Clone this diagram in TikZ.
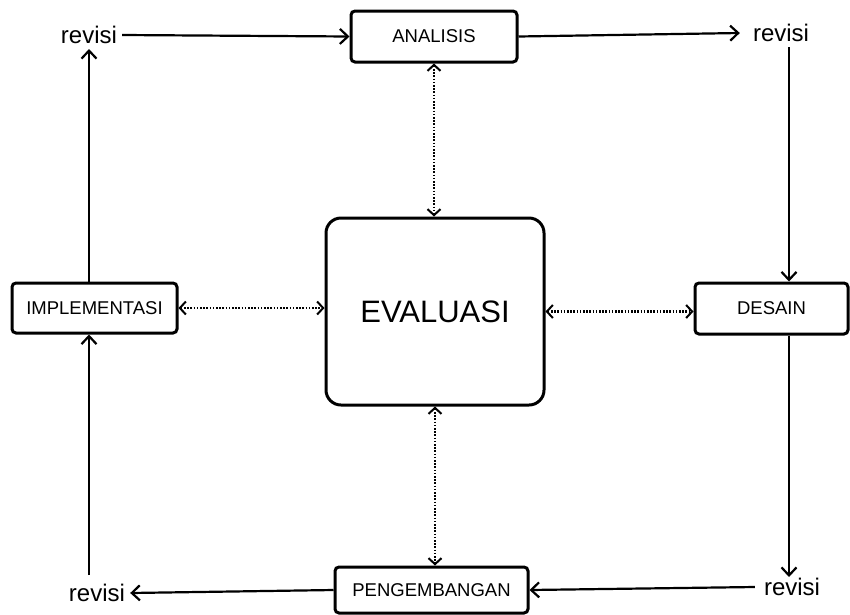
\documentclass[tikz,border=0pt]{standalone}
\usepackage{fontspec}
\setmainfont{Liberation Sans}
\usetikzlibrary{arrows.meta}
\tikzset{
  tahap/.style={draw, line width=3pt, rounded corners=4pt, inner sep=0pt, font=\fontsize{18.5}{20}\selectfont},
  revisi/.style={inner sep=5pt, font=\fontsize{24}{26}\selectfont},
  alur/.style={line width=2.2pt, -{Straight Barb[length=8pt,width=15pt,line width=2.2pt]}},
  umpan/.style={line width=2.2pt, dash pattern=on 1.6pt off 1.6pt, {Straight Barb[length=6pt,width=13pt,line width=2pt]}-{Straight Barb[length=6pt,width=13pt,line width=2pt]}}
}
\begin{document}
\begin{tikzpicture}[x=1pt, y=-1pt]
\useasboundingbox (0,0) rectangle (850,614);
\node[tahap, minimum width=166pt, minimum height=51pt] (analisis) at (434,36.5) {ANALISIS};
\node[tahap, minimum width=153pt, minimum height=51pt] (desain) at (771.5,308.5) {DESAIN};
\node[tahap, minimum width=165pt, minimum height=50pt] (implementasi) at (94.5,308) {IMPLEMENTASI};
\node[tahap, minimum width=193pt, minimum height=46pt] (pengembangan) at (431.5,590) {PENGEMBANGAN};
\node[draw, line width=3pt, rounded corners=15pt, minimum width=218pt, minimum height=187pt, font=\fontsize{31}{34}\selectfont] (evaluasi) at (435,311.5) {EVALUASI};
\node[revisi] (rTL) at (89,35) {revisi};
\node[revisi] (rTR) at (781,33) {revisi};
\node[revisi] (rBR) at (792,587) {revisi};
\node[revisi] (rBL) at (97,593) {revisi};
\coordinate (colR) at (789,0);
% siklus revisi
\draw[alur] (rTL.east) -- (analisis.west);
\draw[alur] (analisis.east) -- ([xshift=-8pt]rTR.west);
\draw[alur] (colR |- rTR.south) -- (colR |- desain.north);
\draw[alur] (colR |- desain.south) -- ([yshift=-4pt]colR |- rBR.north);
\draw[alur] ([xshift=-4pt]rBR.west) -- (pengembangan.east);
\draw[alur] (pengembangan.west) -- (rBL.east);
\draw[alur] ([yshift=4pt]rTL.south |- rBL.north) -- (rTL.south |- implementasi.south);
\draw[alur] (rTL.south |- implementasi.north) -- (rTL.south);
% evaluasi
\draw[umpan] (analisis.south) -- (analisis.south |- evaluasi.north);
\draw[umpan] (implementasi.east) -- (evaluasi.west |- implementasi.east);
\draw[umpan] (evaluasi.east) -- (desain.west |- evaluasi.east);
\draw[umpan] (evaluasi.south) -- (evaluasi.south |- pengembangan.north);
\end{tikzpicture}
\end{document}
